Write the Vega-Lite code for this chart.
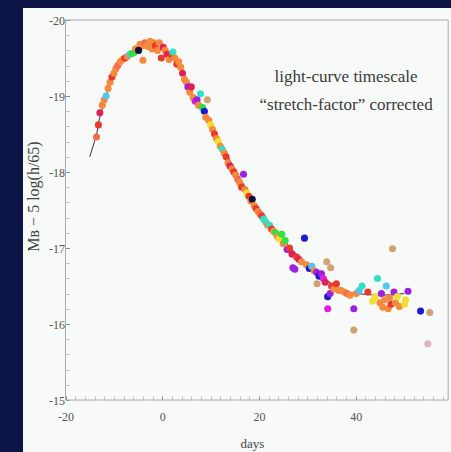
{
  "$schema": "https://vega.github.io/schema/vega-lite/v6.json",
  "width": 428,
  "height": 444,
  "autosize": {"type": "none"},
  "padding": {"left": 23, "top": 8, "right": 0, "bottom": 0},
  "background": "#0d1547",
  "config": {
    "view": {"fill": "#f7faf9", "stroke": null},
    "font": "Liberation Serif"
  },
  "resolve": {"axis": {"x": "independent", "y": "independent"}},
  "datasets": {
    "template": [
      {"d": -15, "m": -18.2}, {"d": -14.5, "m": -18.3}, {"d": -14, "m": -18.4}, {"d": -13.5, "m": -18.52},
      {"d": -13, "m": -18.7}, {"d": -12, "m": -18.92}, {"d": -11, "m": -19.12}, {"d": -10, "m": -19.28},
      {"d": -9, "m": -19.4}, {"d": -8, "m": -19.48}, {"d": -7, "m": -19.53}, {"d": -6, "m": -19.58},
      {"d": -5, "m": -19.62}, {"d": -4, "m": -19.65}, {"d": -3, "m": -19.66}, {"d": -2, "m": -19.66},
      {"d": -1, "m": -19.64}, {"d": 0, "m": -19.6}, {"d": 1, "m": -19.57}, {"d": 2, "m": -19.52},
      {"d": 3, "m": -19.45}, {"d": 4, "m": -19.35}, {"d": 5, "m": -19.2}, {"d": 6, "m": -19.05},
      {"d": 7, "m": -18.95}, {"d": 8, "m": -18.85}, {"d": 9, "m": -18.75}, {"d": 10, "m": -18.65},
      {"d": 11, "m": -18.52}, {"d": 12, "m": -18.4}, {"d": 13, "m": -18.28}, {"d": 14, "m": -18.15},
      {"d": 15, "m": -18.05}, {"d": 16, "m": -17.93}, {"d": 17, "m": -17.82}, {"d": 18, "m": -17.7},
      {"d": 19, "m": -17.6}, {"d": 20, "m": -17.52}, {"d": 21, "m": -17.43}, {"d": 22, "m": -17.35},
      {"d": 23, "m": -17.27}, {"d": 24, "m": -17.2}, {"d": 25, "m": -17.12}, {"d": 26, "m": -17.04},
      {"d": 27, "m": -16.97}, {"d": 28, "m": -16.9}, {"d": 29, "m": -16.85}, {"d": 30, "m": -16.79},
      {"d": 31, "m": -16.74}, {"d": 32, "m": -16.68}, {"d": 33, "m": -16.63}, {"d": 34, "m": -16.58},
      {"d": 35, "m": -16.53}, {"d": 36, "m": -16.5}, {"d": 37, "m": -16.46}, {"d": 38, "m": -16.43},
      {"d": 39, "m": -16.41}, {"d": 40, "m": -16.4}, {"d": 42, "m": -16.39}, {"d": 44, "m": -16.38},
      {"d": 46, "m": -16.38}, {"d": 48, "m": -16.39}, {"d": 50, "m": -16.4}
    ],
    "points": [
      {"d": -13.6, "m": -18.46, "c": "s"}, {"d": -13.2, "m": -18.62, "c": "r"}, {"d": -12.9, "m": -18.78, "c": "cr"},
      {"d": -12.4, "m": -18.88, "c": "o"}, {"d": -12.0, "m": -18.95, "c": "o"}, {"d": -11.6, "m": -19.0, "c": "lb"},
      {"d": -11.2, "m": -19.1, "c": "o"}, {"d": -10.8, "m": -19.18, "c": "o"}, {"d": -10.4, "m": -19.25, "c": "r"},
      {"d": -10.0, "m": -19.3, "c": "o"}, {"d": -9.6, "m": -19.36, "c": "o"}, {"d": -9.2, "m": -19.4, "c": "s"},
      {"d": -8.7, "m": -19.45, "c": "o"}, {"d": -8.2, "m": -19.48, "c": "o"}, {"d": -7.7, "m": -19.5, "c": "r"},
      {"d": -7.2, "m": -19.52, "c": "o"}, {"d": -6.7, "m": -19.55, "c": "lb"}, {"d": -6.3, "m": -19.56, "c": "g"},
      {"d": -5.9, "m": -19.57, "c": "g"}, {"d": -5.5, "m": -19.62, "c": "o"}, {"d": -4.6, "m": -19.68, "c": "o"},
      {"d": -4.2, "m": -19.66, "c": "o"}, {"d": -4.0, "m": -19.47, "c": "o"}, {"d": -4.9, "m": -19.6, "c": "n"},
      {"d": -3.6, "m": -19.7, "c": "s"}, {"d": -3.2, "m": -19.66, "c": "o"}, {"d": -2.9, "m": -19.65, "c": "o"},
      {"d": -2.5, "m": -19.72, "c": "o"}, {"d": -2.1, "m": -19.62, "c": "o"}, {"d": -1.8, "m": -19.7, "c": "o"},
      {"d": -1.4, "m": -19.66, "c": "r"}, {"d": -1.0, "m": -19.6, "c": "o"}, {"d": -0.6, "m": -19.7, "c": "o"},
      {"d": -0.2, "m": -19.5, "c": "r"}, {"d": 0.2, "m": -19.64, "c": "cr"}, {"d": 0.6, "m": -19.6, "c": "o"},
      {"d": 1.0, "m": -19.55, "c": "cr"}, {"d": 1.4, "m": -19.48, "c": "o"}, {"d": 1.8, "m": -19.55, "c": "r"},
      {"d": 2.2, "m": -19.58, "c": "c"}, {"d": 2.6, "m": -19.5, "c": "o"}, {"d": 3.0, "m": -19.42, "c": "r"},
      {"d": 3.4, "m": -19.45, "c": "o"}, {"d": 3.8, "m": -19.38, "c": "o"}, {"d": 4.2, "m": -19.3, "c": "cr"},
      {"d": 4.6, "m": -19.22, "c": "o"}, {"d": 5.0, "m": -19.18, "c": "o"}, {"d": 5.3, "m": -19.12, "c": "pu"},
      {"d": 5.7, "m": -19.05, "c": "o"}, {"d": 6.0, "m": -19.12, "c": "cr"}, {"d": 6.4, "m": -18.98, "c": "o"},
      {"d": 6.8, "m": -18.93, "c": "mg"}, {"d": 7.2, "m": -18.95, "c": "pu"}, {"d": 7.5, "m": -18.88, "c": "o"},
      {"d": 7.9, "m": -19.03, "c": "c"}, {"d": 8.3, "m": -18.85, "c": "g"}, {"d": 8.7, "m": -18.8, "c": "bl"},
      {"d": 9.0, "m": -18.72, "c": "o"}, {"d": 9.3, "m": -18.95, "c": "t"}, {"d": 9.6, "m": -18.68, "c": "o"},
      {"d": 10.0, "m": -18.62, "c": "y"}, {"d": 10.4, "m": -18.56, "c": "o"}, {"d": 10.8, "m": -18.5, "c": "r"},
      {"d": 11.2, "m": -18.44, "c": "o"}, {"d": 11.6, "m": -18.4, "c": "y"}, {"d": 12.0, "m": -18.34, "c": "o"},
      {"d": 12.4, "m": -18.3, "c": "c"}, {"d": 12.8, "m": -18.25, "c": "o"}, {"d": 13.2, "m": -18.2, "c": "r"},
      {"d": 13.6, "m": -18.12, "c": "o"}, {"d": 14.0, "m": -18.08, "c": "cr"}, {"d": 14.4, "m": -18.04, "c": "o"},
      {"d": 14.8, "m": -18.0, "c": "r"}, {"d": 15.2, "m": -17.96, "c": "o"}, {"d": 15.6, "m": -17.9, "c": "s"},
      {"d": 16.0, "m": -17.86, "c": "o"}, {"d": 16.4, "m": -17.8, "c": "r"}, {"d": 16.8, "m": -17.97, "c": "pu"},
      {"d": 17.1, "m": -17.77, "c": "o"}, {"d": 17.5, "m": -17.72, "c": "y"}, {"d": 17.9, "m": -17.68, "c": "r"},
      {"d": 18.3, "m": -17.62, "c": "o"}, {"d": 18.6, "m": -17.64, "c": "n"}, {"d": 19.0, "m": -17.56, "c": "o"},
      {"d": 19.4, "m": -17.52, "c": "r"}, {"d": 19.8, "m": -17.48, "c": "o"}, {"d": 20.2, "m": -17.45, "c": "s"},
      {"d": 20.6, "m": -17.42, "c": "r"}, {"d": 21.0, "m": -17.38, "c": "c"}, {"d": 21.4, "m": -17.34, "c": "c"},
      {"d": 21.8, "m": -17.3, "c": "o"}, {"d": 22.2, "m": -17.3, "c": "c"}, {"d": 22.6, "m": -17.25, "c": "r"},
      {"d": 23.0, "m": -17.22, "c": "o"}, {"d": 23.4, "m": -17.2, "c": "g"}, {"d": 23.8, "m": -17.15, "c": "o"},
      {"d": 24.2, "m": -17.12, "c": "y"}, {"d": 24.7, "m": -17.18, "c": "g"}, {"d": 25.0, "m": -17.06, "c": "o"},
      {"d": 25.4, "m": -17.1, "c": "g"}, {"d": 25.8, "m": -16.98, "c": "pu"}, {"d": 26.3, "m": -17.0, "c": "r"},
      {"d": 26.8, "m": -16.92, "c": "cr"}, {"d": 27.0, "m": -16.74, "c": "pu"}, {"d": 27.4, "m": -16.72, "c": "pu"},
      {"d": 27.8, "m": -16.88, "c": "r"}, {"d": 28.3, "m": -16.85, "c": "cr"}, {"d": 28.8, "m": -16.82, "c": "o"},
      {"d": 29.4, "m": -17.13, "c": "bl"}, {"d": 29.8, "m": -16.78, "c": "o"}, {"d": 30.4, "m": -16.73, "c": "bl"},
      {"d": 30.9, "m": -16.76, "c": "lb"}, {"d": 31.4, "m": -16.7, "c": "o"}, {"d": 31.9, "m": -16.68, "c": "pu"},
      {"d": 32.0, "m": -16.53, "c": "t"}, {"d": 32.4, "m": -16.63, "c": "bl"}, {"d": 32.9, "m": -16.66, "c": "pu"},
      {"d": 33.3, "m": -16.6, "c": "mg"}, {"d": 33.7, "m": -16.55, "c": "cr"}, {"d": 34.0, "m": -16.82, "c": "t"},
      {"d": 34.2, "m": -16.36, "c": "bl"}, {"d": 34.2, "m": -16.2, "c": "mg"}, {"d": 34.7, "m": -16.4, "c": "pu"},
      {"d": 34.8, "m": -16.74, "c": "t"}, {"d": 35.0, "m": -16.5, "c": "r"}, {"d": 35.5, "m": -16.46, "c": "o"},
      {"d": 36.0, "m": -16.53, "c": "r"}, {"d": 36.5, "m": -16.44, "c": "o"}, {"d": 37.0, "m": -16.44, "c": "o"},
      {"d": 37.6, "m": -16.42, "c": "o"}, {"d": 38.2, "m": -16.4, "c": "s"}, {"d": 38.8, "m": -16.38, "c": "o"},
      {"d": 39.6, "m": -16.2, "c": "pu"}, {"d": 39.6, "m": -15.92, "c": "t"}, {"d": 40.1, "m": -16.4, "c": "o"},
      {"d": 40.7, "m": -16.44, "c": "lb"}, {"d": 41.3, "m": -16.5, "c": "c"}, {"d": 42.5, "m": -16.42, "c": "r"},
      {"d": 43.5, "m": -16.3, "c": "y"}, {"d": 44.0, "m": -16.36, "c": "y"}, {"d": 44.5, "m": -16.6, "c": "c"},
      {"d": 45.0, "m": -16.28, "c": "o"}, {"d": 45.3, "m": -16.4, "c": "pu"}, {"d": 45.6, "m": -16.22, "c": "o"},
      {"d": 46.0, "m": -16.32, "c": "o"}, {"d": 46.3, "m": -16.5, "c": "lb"}, {"d": 46.7, "m": -16.2, "c": "o"},
      {"d": 47.0, "m": -16.35, "c": "o"}, {"d": 47.3, "m": -16.26, "c": "r"}, {"d": 47.6, "m": -16.99, "c": "t"},
      {"d": 47.9, "m": -16.42, "c": "pu"}, {"d": 48.2, "m": -16.28, "c": "o"}, {"d": 48.6, "m": -16.36, "c": "y"},
      {"d": 49.0, "m": -16.23, "c": "o"}, {"d": 50.1, "m": -16.26, "c": "y"}, {"d": 50.3, "m": -16.32, "c": "y"},
      {"d": 50.8, "m": -16.43, "c": "pu"}, {"d": 53.4, "m": -16.17, "c": "bl"}, {"d": 55.3, "m": -16.15, "c": "t"},
      {"d": 54.9, "m": -15.74, "c": "pk"}
    ]
  },
  "layer": [
    {
      "data": {"name": "template"},
      "mark": {"type": "line", "color": "#333333", "strokeWidth": 1},
      "encoding": {
        "x": {
          "field": "d", "type": "quantitative",
          "scale": {"domain": [-28.79, 59.69], "nice": false, "zero": false},
          "axis": {
            "values": [-20, -18, -16, -14, -12, -10, -8, -6, -4, -2, 0, 2, 4, 6, 8, 10, 12, 14, 16, 18, 20, 22, 24, 26, 28, 30, 32, 34, 36, 38, 40, 42, 44, 46, 48, 50, 52, 54, 56, 58, 60],
            "labelExpr": "datum.value % 20 === 0 ? replace(datum.label, '−', '-') : ''",
            "offset": -52,
            "domain": false,
            "grid": false,
            "tickSize": -4,
            "tickColor": {"condition": {"test": "datum.value % 20 === 0", "value": "#888888"}, "value": "#c4c4c4"},
            "tickWidth": 1,
            "labelFont": "Liberation Serif",
            "labelFontSize": 12,
            "labelColor": "#555555",
            "labelPadding": 15,
            "labelFlush": false,
            "labelOverlap": false,
            "labelBound": false,
            "title": "days",
            "titleFont": "Liberation Serif",
            "titleFontSize": 13,
            "titleFontWeight": "normal",
            "titleColor": "#444444",
            "titleX": 229,
            "titleY": 43,
            "titleBaseline": "middle",
            "titleAnchor": null
          }
        },
        "y": {
          "field": "m", "type": "quantitative",
          "scale": {"domain": [-20.158, -14.316], "nice": false, "zero": false, "reverse": true},
          "axis": {
            "values": [-20, -19.8, -19.6, -19.4, -19.2, -19, -18.8, -18.6, -18.4, -18.2, -18, -17.8, -17.6, -17.4, -17.2, -17, -16.8, -16.6, -16.4, -16.2, -16, -15.8, -15.6, -15.4, -15.2, -15],
            "labelExpr": "abs(datum.value - round(datum.value)) < 0.001 ? toString(round(datum.value)) : ''",
            "offset": -42.5,
            "domain": false,
            "grid": false,
            "tickSize": -4,
            "tickColor": {"condition": {"test": "abs(datum.value - round(datum.value)) < 0.001", "value": "#888888"}, "value": "#c4c4c4"},
            "tickWidth": 1,
            "labelFont": "Liberation Serif",
            "labelFontSize": 12,
            "labelColor": "#555555",
            "labelPadding": 5,
            "labelFlush": false,
            "labelOverlap": false,
            "labelBound": false,
            "title": "Mʙ − 5 log(h/65)",
            "titleFont": "Liberation Serif",
            "titleFontSize": 16,
            "titleFontWeight": "normal",
            "titleColor": "#444444",
            "titleX": -32.5,
            "titleY": 188,
            "titleBaseline": "middle",
            "titleAngle": 270,
            "titleAnchor": null
          }
        }
      }
    },
    {
      "data": {"values": [{}]},
      "mark": {"type": "rule", "color": "#aaaaaa", "strokeWidth": 1},
      "encoding": {
        "x": {"datum": -20, "type": "quantitative", "axis": null},
        "y": {"datum": -20, "type": "quantitative", "axis": null},
        "y2": {"datum": -15}
      }
    },
    {
      "data": {"values": [{}]},
      "mark": {"type": "rule", "color": "#aaaaaa", "strokeWidth": 1},
      "encoding": {
        "x": {"datum": 59.1, "type": "quantitative", "axis": null},
        "y": {"datum": -20, "type": "quantitative", "axis": null},
        "y2": {"datum": -15}
      }
    },
    {
      "data": {"values": [{}]},
      "mark": {"type": "rule", "color": "#aaaaaa", "strokeWidth": 1},
      "encoding": {
        "x": {"datum": -20, "type": "quantitative", "axis": null},
        "x2": {"datum": 59.1},
        "y": {"datum": -20, "type": "quantitative", "axis": null}
      }
    },
    {
      "data": {"values": [{}]},
      "mark": {"type": "rule", "color": "#aaaaaa", "strokeWidth": 1},
      "encoding": {
        "x": {"datum": -20, "type": "quantitative", "axis": null},
        "x2": {"datum": 59.1},
        "y": {"datum": -15, "type": "quantitative", "axis": null}
      }
    },
    {
      "data": {"name": "points"},
      "mark": {"type": "circle", "size": 50, "opacity": 1},
      "encoding": {
        "x": {"field": "d", "type": "quantitative", "axis": null},
        "y": {"field": "m", "type": "quantitative", "axis": null},
        "color": {
          "field": "c", "type": "nominal", "legend": null,
          "scale": {
            "domain": ["o", "r", "cr", "s", "pu", "mg", "bl", "n", "c", "lb", "g", "y", "t", "pk"],
            "range": ["#f58a3c", "#e83a2a", "#e0205a", "#f86a52", "#9a22e0", "#e020e0", "#1a1ad0", "#101040", "#30e0c8", "#55c5f0", "#30e040", "#f2e030", "#d2a272", "#e8b0b8"]
          }
        }
      }
    },
    {
      "data": {"values": [{}]},
      "mark": {
        "type": "text",
        "text": ["light-curve timescale", "“stretch-factor” corrected"],
        "font": "Liberation Serif",
        "fontSize": 17,
        "color": "#3a3a3a",
        "align": "center",
        "baseline": "middle",
        "lineHeight": 28
      },
      "encoding": {
        "x": {"datum": 38.0, "type": "quantitative", "axis": null},
        "y": {"datum": -19.25, "type": "quantitative", "axis": null}
      }
    }
  ]
}
